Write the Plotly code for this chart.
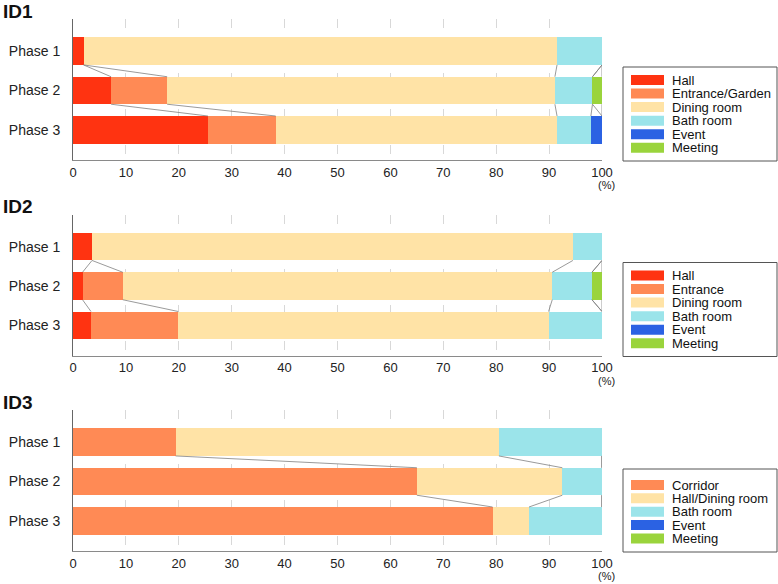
import plotly.graph_objects as go

W, H = 778, 584

phases = ["Phase 1", "Phase 2", "Phase 3"]
x_ticks = [0, 10, 20, 30, 40, 50, 60, 70, 80, 90, 100]

# ID1
id1_labels = ["Hall", "Entrance/Garden", "Dining room", "Bath room", "Event", "Meeting"]
id1_hall = [2.0, 7.2, 25.5]
id1_entrance = [0.0, 10.6, 12.8]
id1_dining = [89.5, 73.3, 53.2]
id1_bath = [8.5, 7.1, 6.4]
id1_event = [0.0, 0.0, 2.1]
id1_meeting = [0.0, 1.8, 0.0]

# ID2
id2_labels = ["Hall", "Entrance", "Dining room", "Bath room", "Event", "Meeting"]
id2_hall = [3.6, 1.8, 3.4]
id2_entrance = [0.0, 7.6, 16.5]
id2_dining = [90.9, 81.2, 70.0]
id2_bath = [5.5, 7.5, 10.1]
id2_event = [0.0, 0.0, 0.0]
id2_meeting = [0.0, 1.9, 0.0]

# ID3
id3_labels = ["Corridor", "Hall/Dining room", "Bath room", "Event", "Meeting"]
id3_corridor = [19.4, 65.0, 79.3]
id3_hall_dining = [61.1, 27.5, 6.9]
id3_bath = [19.5, 7.5, 13.8]
id3_event = [0.0, 0.0, 0.0]
id3_meeting = [0.0, 0.0, 0.0]

titles = ["ID1", "ID2", "ID3"]

C_HALL = "#FF3311"
C_ENT = "#FF8A55"
C_DIN = "#FFE3A6"
C_BATH = "#9BE4EA"
C_EVENT = "#2B62E3"
C_MEET = "#9AD43C"

panels = [
    (id1_labels, [id1_hall, id1_entrance, id1_dining, id1_bath, id1_event, id1_meeting],
     [C_HALL, C_ENT, C_DIN, C_BATH, C_EVENT, C_MEET]),
    (id2_labels, [id2_hall, id2_entrance, id2_dining, id2_bath, id2_event, id2_meeting],
     [C_HALL, C_ENT, C_DIN, C_BATH, C_EVENT, C_MEET]),
    (id3_labels, [id3_corridor, id3_hall_dining, id3_bath, id3_event, id3_meeting],
     [C_ENT, C_DIN, C_BATH, C_EVENT, C_MEET]),
]

FONT = "Liberation Sans, Arial, Helvetica, sans-serif"
BAR_W = 0.70
PANEL_STEP = 195.5


def py(p):
    return 1 - p / H


def px(p):
    return p / W


fig = go.Figure()
shapes = []
annotations = []
layout_axes = {}

for k, (labels, series, colors) in enumerate(panels):
    n = k + 1
    xa = "x" if n == 1 else f"x{n}"
    ya = "y" if n == 1 else f"y{n}"
    off = PANEL_STEP * k

    # bars
    for lab, vals, col in zip(labels, series, colors):
        fig.add_trace(go.Bar(
            y=[0, 1, 2], x=vals, orientation="h", width=BAR_W,
            marker=dict(color=col, line=dict(width=0)),
            name=lab, showlegend=False, xaxis=xa, yaxis=ya,
        ))

    # connector lines between cumulative boundaries
    cums = []
    for i in range(3):
        s = 0.0
        row = []
        for vals in series:
            s += vals[i]
            row.append(s)
        cums.append(row)
    cx, cy = [], []
    for i in range(2):
        for j in range(len(series)):
            cx += [cums[i][j], cums[i + 1][j], None]
            cy += [i + BAR_W / 2, i + 1 - BAR_W / 2, None]
    fig.add_trace(go.Scatter(
        x=cx, y=cy, mode="lines", line=dict(color="#808080", width=0.8),
        showlegend=False, hoverinfo="skip", xaxis=xa, yaxis=ya,
    ))

    top = 19 + off
    bot = 160 + off
    xkey = "xaxis" if n == 1 else f"xaxis{n}"
    ykey = "yaxis" if n == 1 else f"yaxis{n}"
    layout_axes[xkey] = dict(
        domain=[px(73), px(602)], anchor=ya, range=[0, 100], automargin=False,
        tickvals=x_ticks, ticktext=[str(t) for t in x_ticks],
        showgrid=True, gridcolor="#d8d8d8", griddash="dash", gridwidth=1,
        showline=True, linecolor="#8a8a8a", linewidth=1, zeroline=False,
        ticks="", ticklabelstandoff=0,
        tickfont=dict(family=FONT, size=13, color="#222"),
        fixedrange=True,
    )
    layout_axes[ykey] = dict(
        domain=[py(bot), py(top)], anchor=xa, range=[2.77, -0.82], automargin=False,
        tickvals=[0, 1, 2], ticktext=phases,
        showgrid=False, zeroline=False, showline=True, linecolor="#666666",
        linewidth=1, ticks="", ticklabelstandoff=9,
        tickfont=dict(family=FONT, size=14, color="#222"),
        fixedrange=True,
    )

    # title
    annotations.append(dict(
        x=px(1), y=py(11 + off), xref="paper", yref="paper", text=f"<b>{titles[k]}</b>",
        showarrow=False, xanchor="left", yanchor="middle",
        font=dict(family=FONT, size=19, color="#111"),
    ))
    # unit label
    annotations.append(dict(
        x=px(606), y=py(185 + off), xref="paper", yref="paper", text="(%)",
        showarrow=False, xanchor="center", yanchor="middle",
        font=dict(family=FONT, size=11, color="#222"),
    ))

    # legend box
    nitems = len(labels)
    if nitems == 6:
        box_top, box_bot, first, step = 67 + off, 161 + off, 80 + off, 13.55
    else:
        box_top, box_bot, first, step = 469, 552, 485, 13.35
    shapes.append(dict(
        type="rect", xref="paper", yref="paper",
        x0=px(623), x1=px(777), y0=py(box_bot), y1=py(box_top),
        line=dict(color="#555555", width=1), fillcolor="white", layer="above",
    ))
    for j, (lab, col) in enumerate(zip(labels, colors)):
        cyy = first + step * j
        shapes.append(dict(
            type="rect", xref="paper", yref="paper",
            x0=px(631), x1=px(664), y0=py(cyy + 5), y1=py(cyy - 5),
            line=dict(width=0), fillcolor=col, layer="above",
        ))
        annotations.append(dict(
            x=px(670), y=py(cyy), xref="paper", yref="paper", text=lab,
            showarrow=False, xanchor="left", yanchor="middle",
            font=dict(family=FONT, size=13, color="#111"),
        ))

fig.update_layout(
    width=W, height=H, margin=dict(l=0, r=0, t=0, b=0, autoexpand=False),
    paper_bgcolor="white", plot_bgcolor="white",
    barmode="stack", bargap=0, showlegend=False,
    shapes=shapes, annotations=annotations,
    font=dict(family=FONT),
    **layout_axes,
)

fig.write_html(
    "out.html",
    config={"displayModeBar": False, "staticPlot": True},
    post_script="document.body.style.margin='0';document.body.style.overflow='hidden';",
)
